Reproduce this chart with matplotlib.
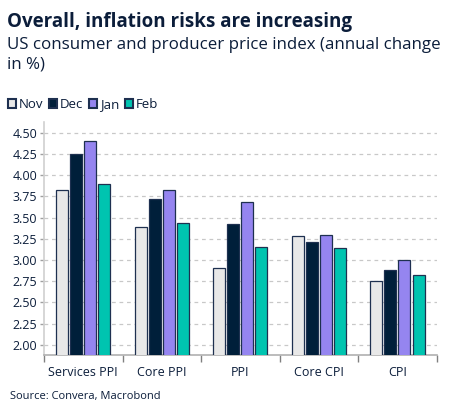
import matplotlib
matplotlib.use("Agg")
import matplotlib.pyplot as plt
from matplotlib.patches import Patch
import numpy as np

plt.rcParams['font.family'] = ['Open Sans', 'DejaVu Sans']

categories = ["Services PPI", "Core PPI", "PPI", "Core CPI", "CPI"]
series_names = ["Nov", "Dec", "Jan", "Feb"]
nov = [3.82, 3.39, 2.91, 3.28, 2.75]
dec = [4.25, 3.72, 3.42, 3.21, 2.88]
jan = [4.40, 3.82, 3.68, 3.29, 3.00]
feb = [3.89, 3.44, 3.15, 3.14, 2.82]
yticks = [2.00, 2.25, 2.50, 2.75, 3.00, 3.25, 3.50, 3.75, 4.00, 4.25, 4.50]

colors = ["#e8e8e8", "#001f3a", "#9585f0", "#00c4b0"]
edge = "#1e3050"
text_col = "#0b1d3a"

fig = plt.figure(figsize=(4.53, 4.17), dpi=100)
ax = fig.add_axes([44/453, 1-355/417, (436.7-44)/453, (355-121.7)/417])

x = np.arange(len(categories))
step = 0.179
width = 0.153
for i, (vals, c) in enumerate(zip([nov, dec, jan, feb], colors)):
    ax.bar(x + (i-1.5)*step, vals, width=width, color=c, edgecolor=edge,
           linewidth=0.9, zorder=3, bottom=0)

ax.set_xlim(-0.5, len(categories)-0.5)
ax.set_ylim(1.88, 4.63)
ax.set_yticks(yticks)
ax.set_yticklabels([f"{v:.2f}" for v in yticks], fontsize=9, color=text_col)
ax.yaxis.grid(True, linestyle=(0, (3, 3)), color="#c8c8c8", linewidth=0.9, zorder=0)
ax.set_axisbelow(True)

ax.set_xticks(np.arange(-0.5, len(categories)), minor=False)
ax.set_xticklabels([])
ax.set_xticks(x, minor=True)
ax.set_xticklabels(categories, minor=True, fontsize=9, color=text_col)
ax.tick_params(axis='x', which='minor', length=0, pad=8)
ax.tick_params(axis='x', which='major', length=5, color="#808080", width=1)
ax.tick_params(axis='y', length=3, color="#a0a0a0", width=1, pad=2)

for s in ["top", "right"]:
    ax.spines[s].set_visible(False)
ax.spines["left"].set_color("#d0d0d0")
ax.spines["left"].set_linewidth(1.2)
ax.spines["bottom"].set_color("#b0b0b0")
ax.spines["bottom"].set_linewidth(1.2)

fig.text(7/453, 1-12/417, "Overall, inflation risks are increasing", fontsize=13.5,
         fontweight='bold', color=text_col, va='top', ha='left')
fig.text(7/453, 1-37/417, "US consumer and producer price index (annual change\nin %)",
         fontsize=12.2, color=text_col, va='top', ha='left', linespacing=1.3)

handles = [Patch(facecolor=c, edgecolor=edge, linewidth=1.5) for c in colors]
fig.legend(handles, series_names, loc='upper left', bbox_to_anchor=(3/453, 1-93/417),
           ncol=4, frameon=False, fontsize=9.5, handlelength=0.6, handleheight=0.6,
           handletextpad=0.2, columnspacing=0.45, labelcolor=text_col, borderaxespad=0)

fig.text(10/453, 1-397/417, "Source: Convera, Macrobond", fontsize=8, color=text_col,
         va='center', ha='left')

fig.savefig("out.png", dpi=100)
